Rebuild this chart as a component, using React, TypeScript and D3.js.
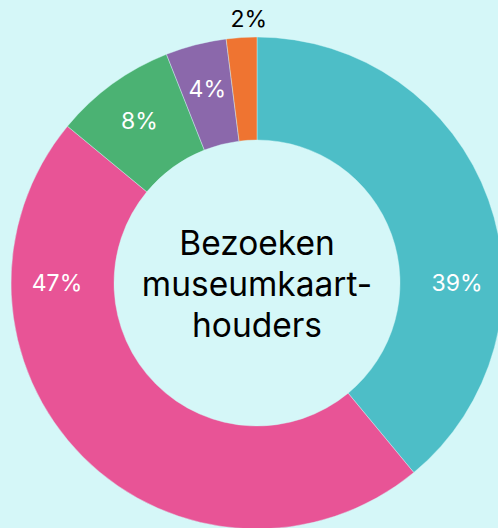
import React from "react";
import * as d3 from "d3";

const labels = ["Teal", "Roze", "Groen", "Paars", "Oranje"];
const values = [39, 47, 8, 4, 2];
const colors = ["#4dbec7", "#e85496", "#4bb273", "#8b68ab", "#ef7431"];
const centerLines = ["Bezoeken", "museumkaart-", "houders"];

const W = 498;
const H = 528;

const App = () => {
  const cx = 257;
  const cy = 283;
  const outer = 246;
  const inner = 143;
  const labelR = 200;

  const pie = d3
    .pie<number>()
    .value((d) => d)
    .sort(null);
  const arcs = pie(values);

  const arcGen = d3
    .arc<d3.PieArcDatum<number>>()
    .innerRadius(inner)
    .outerRadius(outer);

  // big slices get their label on the horizontal axis, small ones at the middle angle,
  // tiny ones outside the ring
  const labelPos = (a: d3.PieArcDatum<number>): [number, number, boolean] => {
    let ang = (a.startAngle + a.endAngle) / 2;
    let r = labelR;
    const outside = a.data < 3;
    for (const h of [Math.PI / 2, (3 * Math.PI) / 2]) {
      if (a.startAngle < h && a.endAngle > h) ang = h;
    }
    if (outside) {
      r = outer + 18;
      ang = a.endAngle - (a.endAngle - a.startAngle) * 0.25;
    }
    return [r * Math.sin(ang), -r * Math.cos(ang), outside];
  };

  return (
    <div style={{ position: "fixed", left: 0, top: 0 }}>
      <svg width={W} height={H} style={{ display: "block", background: "#d5f7f8" }}>
        <g transform={`translate(${cx},${cy})`}>
          {arcs.map((a, i) => (
            <path
              key={labels[i]}
              d={arcGen(a) || ""}
              fill={colors[i]}
              stroke="#d5f7f8"
              strokeOpacity={0.6}
              strokeWidth={0.7}
            />
          ))}
          {arcs.map((a, i) => {
            const [x, y, outside] = labelPos(a);
            return (
              <text
                key={"l" + labels[i]}
                x={x}
                y={y}
                dy="0.35em"
                textAnchor="middle"
                fontFamily="Inter, 'Noto Sans', sans-serif"
                fontSize={23}
                fill={outside ? "#000" : "#fff"}
              >
                {a.data}%
              </text>
            );
          })}
          {centerLines.map((t, i) => (
            <text
              key={t}
              x={0}
              y={-28 + i * 41}
              textAnchor="middle"
              fontFamily="Inter, 'Noto Sans', sans-serif"
              fontSize={33.5}
              fill="#000"
            >
              {t}
            </text>
          ))}
        </g>
      </svg>
    </div>
  );
};

export default App;
